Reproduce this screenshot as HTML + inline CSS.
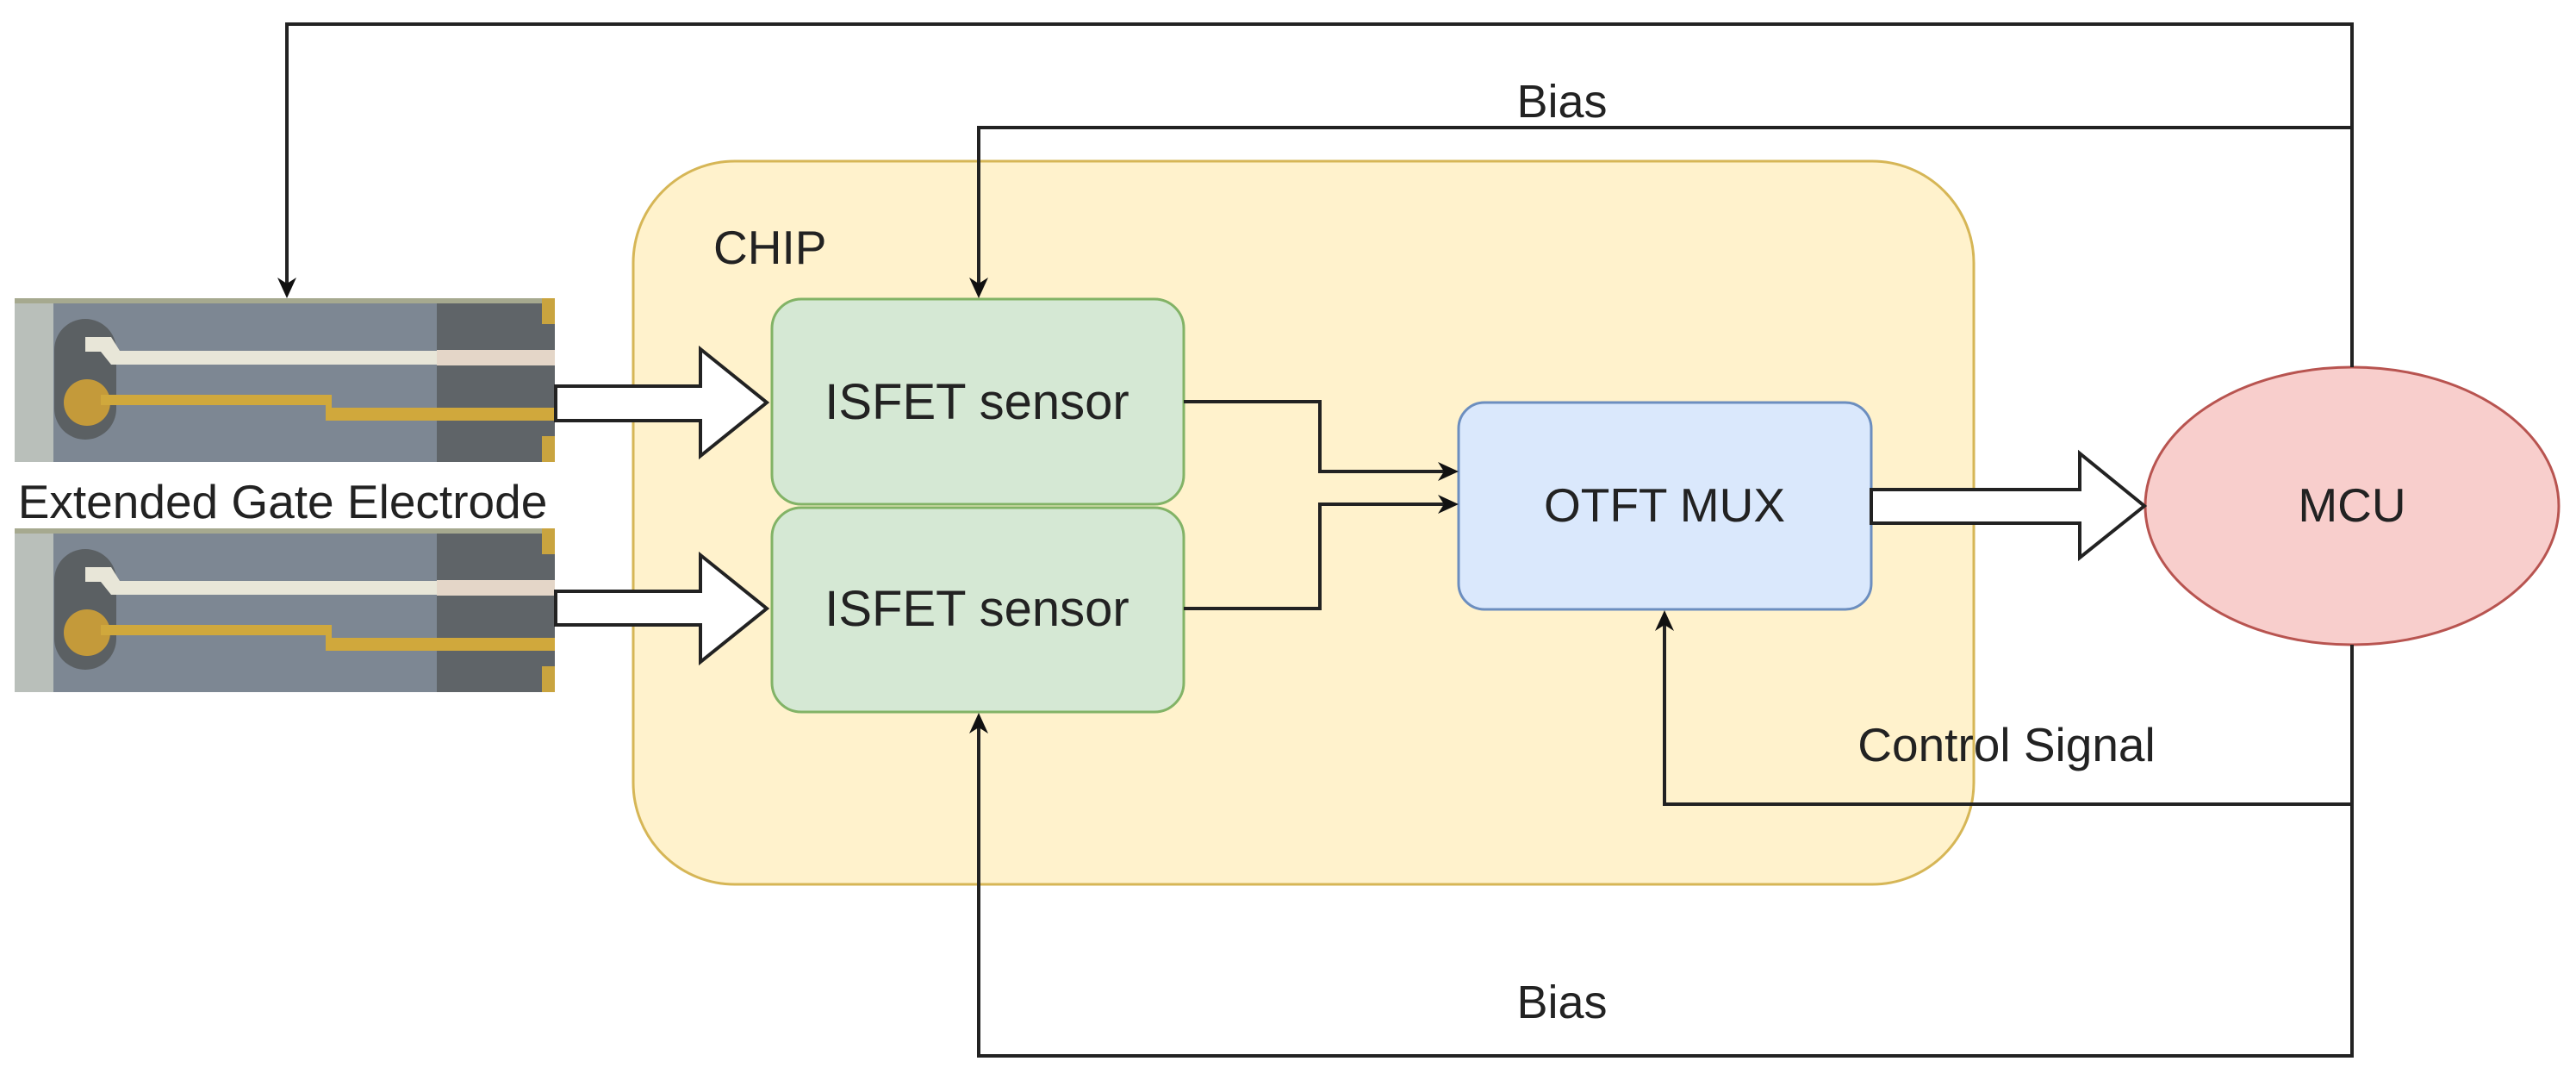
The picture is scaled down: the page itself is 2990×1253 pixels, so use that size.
<!DOCTYPE html>
<html><head><meta charset="utf-8"><style>
html,body{margin:0;padding:0;background:#fff;}
svg{display:block;}
text{font-family:"Liberation Sans",Arial,sans-serif;fill:#222;}
</style></head><body>
<svg width="2990" height="1253" viewBox="0 0 2990 1253" xmlns="http://www.w3.org/2000/svg">
<defs>
<g id="photo">
  <rect x="0" y="0" width="627" height="190" fill="#8a939c"/>
  <rect x="0" y="0" width="45" height="190" fill="#b9bfba"/>
  <rect x="45" y="0" width="445" height="190" fill="#7d8793"/>
  <rect x="490" y="0" width="137" height="190" fill="#5f6468"/>
  <rect x="0" y="0" width="627" height="6" fill="#a6a98f"/>
  <rect x="46" y="24" width="72" height="140" rx="36" fill="#5b6063"/>
  <path d="M82 45 L112 45 L122 61 L627 61 L627 77 L112 77 L100 62 L82 62 Z" fill="#e8e6d8"/>
  <rect x="490" y="60" width="137" height="18" fill="#e4d6c8"/>
  <circle cx="84" cy="121" r="27" fill="#c49a3a"/>
  <path d="M100 112 L368 112 L368 127 L627 127 L627 142 L361 142 L361 124 L100 124 Z" fill="#d0a83c"/>
  <rect x="612" y="0" width="15" height="30" fill="#c9a43f"/>
  <rect x="612" y="160" width="15" height="30" fill="#c9a43f"/>
</g>
</defs>

<use href="#photo" x="17" y="346"/>
<use href="#photo" x="17" y="613"/>
<text x="328" y="601" font-size="55" text-anchor="middle">Extended Gate Electrode</text>

<rect x="735" y="187" width="1556" height="839" rx="118" fill="#fff2cc" stroke="#d6b656" stroke-width="3"/>
<text x="828" y="306" font-size="55">CHIP</text>

<rect x="896" y="347" width="478" height="238" rx="34" fill="#d5e8d4" stroke="#82b366" stroke-width="3"/>
<rect x="896" y="589" width="478" height="237" rx="34" fill="#d5e8d4" stroke="#82b366" stroke-width="3"/>
<text x="1134" y="486" font-size="58" text-anchor="middle">ISFET sensor</text>
<text x="1134" y="726" font-size="58" text-anchor="middle">ISFET sensor</text>

<rect x="1693" y="467" width="479" height="240" rx="30" fill="#dae8fc" stroke="#6c8ebf" stroke-width="3"/>
<text x="1932" y="605" font-size="55" text-anchor="middle">OTFT MUX</text>

<ellipse cx="2730" cy="587" rx="240" ry="161" fill="#f8cecc" stroke="#b85450" stroke-width="3"/>
<text x="2730" y="605" font-size="55" text-anchor="middle">MCU</text>

<g fill="#fff" stroke="#222" stroke-width="4" stroke-linejoin="miter">
<path d="M645 448 L813 448 L813 405 L890 467 L813 529 L813 488 L645 488 Z"/>
<path d="M645 686 L813 686 L813 644 L890 706 L813 768 L813 725 L645 725 Z"/>
<path d="M2172 568 L2414 568 L2414 526 L2489 587 L2414 647 L2414 607 L2172 607 Z"/>
</g>

<g fill="none" stroke="#222" stroke-width="4">
<path d="M2730 426 L2730 28 L333 28 L333 330"/>
<path d="M2730 148 L1136 148 L1136 330"/>
<path d="M2730 748 L2730 1225 L1136 1225 L1136 843"/>
<path d="M2730 933 L1932 933 L1932 724"/>
<path d="M1374 466 L1532 466 L1532 547 L1676 547"/>
<path d="M1374 706 L1532 706 L1532 585 L1676 585"/>
</g>
<g fill="#111">
<path d="M333 346 L322 322 L333 329 L344 322 Z"/>
<path d="M1136 346 L1125 322 L1136 329 L1147 322 Z"/>
<path d="M1136 827 L1125 851 L1136 844 L1147 851 Z"/>
<path d="M1932 708 L1921 732 L1932 725 L1943 732 Z"/>
<path d="M1693 547 L1669 536 L1676 547 L1669 558 Z"/>
<path d="M1693 585 L1669 574 L1676 585 L1669 596 Z"/>
</g>

<text x="1813" y="136" font-size="54" text-anchor="middle">Bias</text>
<text x="1813" y="1181" font-size="54" text-anchor="middle">Bias</text>
<text x="2329" y="883" font-size="55" text-anchor="middle">Control Signal</text>
</svg>
</body></html>
